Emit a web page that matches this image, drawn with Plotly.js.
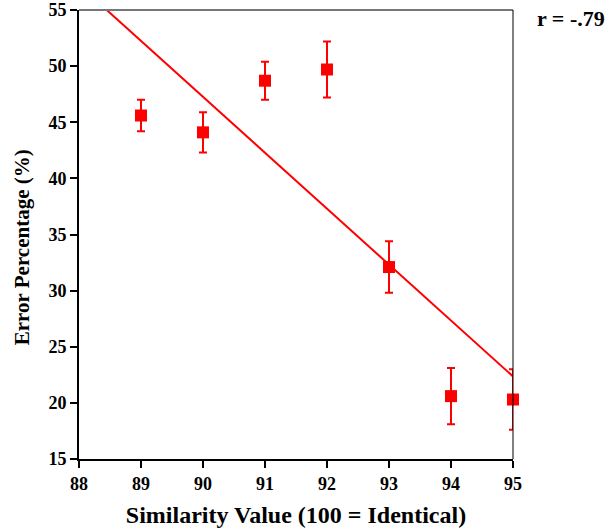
<!DOCTYPE html>
<html>
<head>
<meta charset="utf-8">
<script src="https://cdn.plot.ly/plotly-3.0.1.min.js"></script>
<style>html,body{margin:0;padding:0;background:#fff;}#chart{width:610px;height:529px;}</style>
</head>
<body>
<div id="chart"></div>
<script>
const similarity = [89, 90, 91, 92, 93, 94, 95];
const errorPct = [45.6, 44.1, 48.7, 49.7, 32.1, 20.6, 20.3];
const errorBar = [1.4, 1.8, 1.7, 2.5, 2.3, 2.5, 2.7];
const xTicks = [88, 89, 90, 91, 92, 93, 94, 95];
const yTicks = [15, 20, 25, 30, 35, 40, 45, 50, 55];
const rLabel = 'r = -.79';
const yTitle = 'Error Percentage (%)';
const xTitle = 'Similarity Value (100 = Identical)';

// least-squares fit of the data
const n = similarity.length;
const mx = similarity.reduce((a,b)=>a+b,0)/n;
const my = errorPct.reduce((a,b)=>a+b,0)/n;
let sxy=0, sxx=0;
for (let i=0;i<n;i++){ sxy += (similarity[i]-mx)*(errorPct[i]-my); sxx += (similarity[i]-mx)**2; }
const slope = sxy/sxx, icpt = my - slope*mx;
const fitX = [88, 95];
const fitY = fitX.map(x => icpt + slope*x);

const font = {family: 'Liberation Serif, Times New Roman, serif', color: '#000'};
const data = [
  {x: fitX, y: fitY, mode: 'lines', line: {color: '#ff0000', width: 2}, hoverinfo: 'skip'},
  {x: similarity, y: errorPct, mode: 'markers', cliponaxis: false,
   marker: {symbol: 'square', size: 12, color: '#ff0000'},
   error_y: {type: 'data', array: errorBar, visible: true, color: '#ff0000', thickness: 2, width: 4}}
];
const layout = {
  width: 610, height: 529,
  margin: {l: 79, r: 97, t: 10, b: 70},
  paper_bgcolor: '#fff', plot_bgcolor: '#fff',
  showlegend: false,
  xaxis: {range: [88, 95], tickvals: xTicks, ticktext: xTicks.map(String), showgrid: false, zeroline: false,
    showline: true, linecolor: '#000', linewidth: 2, ticks: 'outside', ticklen: 7, tickwidth: 2, tickcolor: '#000',
    tickfont: Object.assign({size: 18, weight: 'bold'}, font),
    title: {text: '<b>' + xTitle + '</b>', font: Object.assign({size: 24}, font), standoff: 14}},
  yaxis: {range: [15, 55], tickvals: yTicks, ticktext: yTicks.map(String), showgrid: false, zeroline: false,
    showline: true, linecolor: '#000', linewidth: 2, ticks: 'outside', ticklen: 7, tickwidth: 2, tickcolor: '#000',
    tickfont: Object.assign({size: 18, weight: 'bold'}, font)},
  shapes: [
    {type: 'line', xref: 'paper', yref: 'paper', x0: 0, x1: 1, y0: 1, y1: 1, line: {color: '#777', width: 2}},
    {type: 'line', xref: 'paper', yref: 'paper', x0: 1, x1: 1, y0: 0, y1: 1, line: {color: '#000', width: 1}}
  ],
  annotations: [
    {text: '<b>' + rLabel + '</b>', xref: 'paper', yref: 'paper', x: 1.05, y: 0.982, xanchor: 'left', yanchor: 'middle',
     showarrow: false, font: Object.assign({size: 22}, font)},
    {text: '<b>' + yTitle + '</b>', xref: 'paper', yref: 'paper', x: -0.131, y: 0.472, xanchor: 'center', yanchor: 'middle',
     textangle: -90, showarrow: false, font: Object.assign({size: 21}, font)}
  ]
};
Plotly.newPlot('chart', data, layout, {displayModeBar: false, staticPlot: true});
</script>
</body>
</html>
